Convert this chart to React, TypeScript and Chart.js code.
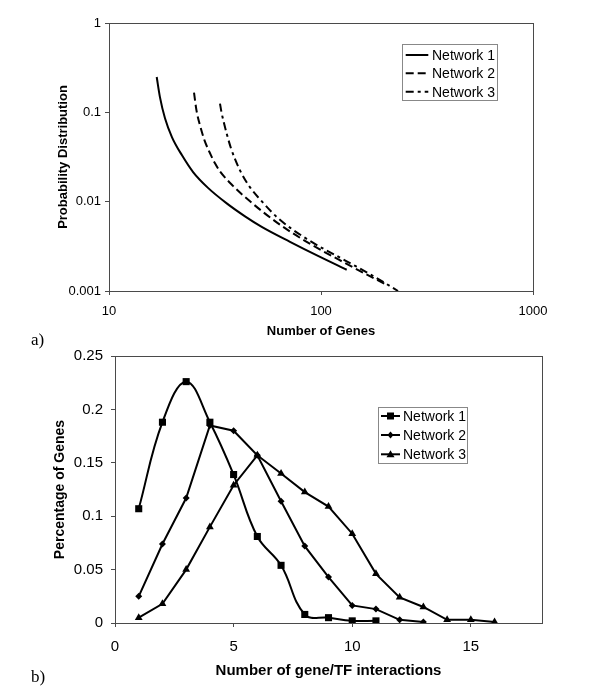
import React, { useEffect, useRef } from "react";
import { Chart, registerables } from "chart.js";

Chart.register(...registerables);

// ---------- Chart a) : probability distribution vs number of genes (log-log)
const seriesNames = ["Network 1", "Network 2", "Network 3"];
const net1Genes = [16.79, 17.4, 18.37, 19.83, 22.1, 24.98, 29.31, 35.92, 43.81, 52.53, 71.42, 96.79, 132.2];
const net1Prob = [0.2484, 0.1472, 0.0857, 0.0525, 0.033, 0.0213, 0.01427, 0.00957, 0.00685, 0.00522, 0.00355, 0.00247, 0.00173];
const net2Genes = [25.18, 25.86, 26.87, 28.22, 30.28, 31.62, 33.39, 38.45, 46.26, 61.8, 85.6, 132.2, 206.2];
const net2Prob = [0.1662, 0.1053, 0.0715, 0.0486, 0.033, 0.02685, 0.02184, 0.01503, 0.01008, 0.00587, 0.00355, 0.00201, 0.001156];
const net3Genes = [33.39, 33.94, 34.61, 35.92, 37.63, 41.49, 46.26, 51.57, 62.9, 85.6, 132.2, 174.0, 230.8];
const net3Prob = [0.1252, 0.1, 0.0813, 0.0577, 0.0395, 0.0224, 0.01446, 0.01061, 0.0065, 0.00383, 0.00215, 0.0015, 0.001];
const xTicksA = [10, 100, 1000];
const xTickLabelsA = ["10", "100", "1000"];
const yTicksA = [0.001, 0.01, 0.1, 1];
const yTickLabelsA = ["0.001", "0.01", "0.1", "1"];
const xTitleA = "Number of Genes";
const yTitleA = "Probability Distribution";

// ---------- Chart b) : percentage of genes vs number of gene/TF interactions
const interactions = [1, 2, 3, 4, 5, 6, 7, 8, 9, 10, 11, 12, 13, 14, 15, 16];
const net1Pct = [0.107, 0.188, 0.226, 0.188, 0.139, 0.081, 0.054, 0.008, 0.005, 0.002, 0.002];
const net2Pct = [0.025, 0.074, 0.117, 0.185, 0.18, 0.157, 0.114, 0.072, 0.043, 0.0165, 0.013, 0.003, 0.001];
const net3Pct = [0.005, 0.018, 0.05, 0.09, 0.129, 0.157, 0.14, 0.1226, 0.109, 0.0836, 0.046, 0.024, 0.015, 0.003, 0.003, 0.001];
const xTicksB = [0, 5, 10, 15];
const xTickLabelsB = ["0", "5", "10", "15"];
const yTicksB = [0, 0.05, 0.1, 0.15, 0.2, 0.25];
const yTickLabelsB = ["0", "0.05", "0.1", "0.15", "0.2", "0.25"];
const xTitleB = "Number of gene/TF interactions";
const yTitleB = "Percentage of Genes";

const SANS = "'Liberation Sans', Arial, Helvetica, sans-serif";
const SERIF = "'Liberation Serif', 'Times New Roman', serif";
const AXIS = "#4a4a4a";

const pts = (xs: number[], ys: number[]) => ys.map((y, i) => ({ x: xs[i], y }));

const framePlugin = {
  id: "frame",
  afterDatasetsDraw(chart: any) {
    const { ctx, chartArea } = chart;
    const { left, top, right, bottom } = chartArea;
    ctx.save();
    ctx.strokeStyle = AXIS;
    ctx.lineWidth = 1;
    ctx.strokeRect(Math.round(left) + 0.5, Math.round(top) + 0.5, Math.round(right - left), Math.round(bottom - top));
    ctx.restore();
  },
};

function drawMarker(ctx: CanvasRenderingContext2D, style: string, x: number, y: number) {
  ctx.beginPath();
  if (style === "rect") {
    ctx.rect(x - 3.5, y - 3.5, 7, 7);
  } else if (style === "rectRot") {
    ctx.moveTo(x, y - 3.5);
    ctx.lineTo(x + 3, y);
    ctx.lineTo(x, y + 3.5);
    ctx.lineTo(x - 3, y);
    ctx.closePath();
  } else if (style === "triangle") {
    ctx.moveTo(x, y - 4);
    ctx.lineTo(x + 4, y + 3);
    ctx.lineTo(x - 4, y + 3);
    ctx.closePath();
  } else {
    return;
  }
  ctx.fillStyle = "#000";
  ctx.fill();
}

function makeLegend(box: { x: number; y: number; w: number; h: number }, rows: number[], sx0: number, sx1: number, tx: number) {
  return {
    id: "boxLegend",
    afterDraw(chart: any) {
      const ctx: CanvasRenderingContext2D = chart.ctx;
      ctx.save();
      ctx.fillStyle = "#fff";
      ctx.fillRect(box.x, box.y, box.w, box.h);
      ctx.strokeStyle = "#888";
      ctx.lineWidth = 1;
      ctx.strokeRect(box.x + 0.5, box.y + 0.5, box.w, box.h);
      chart.data.datasets.forEach((ds: any, i: number) => {
        const y = rows[i];
        ctx.strokeStyle = "#000";
        ctx.lineWidth = 2;
        ctx.setLineDash(ds.borderDash || []);
        ctx.beginPath();
        ctx.moveTo(sx0, y);
        ctx.lineTo(sx1, y);
        ctx.stroke();
        ctx.setLineDash([]);
        if (ds.pointRadius > 0) drawMarker(ctx, ds.pointStyle, (sx0 + sx1) / 2, y);
        ctx.fillStyle = "#000";
        ctx.font = `14px ${SANS}`;
        ctx.textAlign = "left";
        ctx.textBaseline = "middle";
        ctx.fillText(ds.label, tx, y + 1);
      });
      ctx.restore();
    },
  };
}

function axisCommon(size: number, pad: number, ticks: number[], labels: string[], title: string, titleSize: number, fit: (s: any) => void) {
  return {
    afterBuildTicks: (s: any) => {
      s.ticks = ticks.map((v) => ({ value: v }));
    },
    afterFit: fit,
    ticks: {
      callback: (_v: any, i: number) => labels[i],
      autoSkip: false,
      maxRotation: 0,
      color: "#000",
      font: { family: SANS, size },
      padding: pad,
    },
    grid: { display: true, drawOnChartArea: false, drawTicks: true, tickLength: 4, color: AXIS },
    border: { display: true, color: AXIS },
    title: {
      display: true,
      text: title,
      color: "#000",
      font: { family: SANS, size: titleSize, weight: "bold" },
      padding: { top: 4, bottom: 4 },
    },
  };
}

function configA(): any {
  const common = { borderColor: "#000", borderWidth: 2, pointRadius: 0, cubicInterpolationMode: "monotone", fill: false };
  return {
    type: "line",
    data: {
      datasets: [
        { ...common, label: seriesNames[0], data: pts(net1Genes, net1Prob), borderDash: [] },
        { ...common, label: seriesNames[1], data: pts(net2Genes, net2Prob), borderDash: [8, 4] },
        { ...common, label: seriesNames[2], data: pts(net3Genes, net3Prob), borderDash: [8, 4, 3, 4] },
      ],
    },
    options: {
      animation: false,
      responsive: false,
      devicePixelRatio: 1,
      layout: { padding: { left: 52, top: 23, right: 67, bottom: 2 } },
      plugins: { legend: { display: false }, tooltip: { enabled: false } },
      scales: {
        x: {
          type: "logarithmic",
          min: 10,
          max: 1000,
          ...axisCommon(13, 9, xTicksA, xTickLabelsA, xTitleA, 13, (s: any) => {
            s.height = 52;
          }),
        },
        y: {
          type: "logarithmic",
          min: 0.001,
          max: 1,
          ...axisCommon(13, 4, yTicksA, yTickLabelsA, yTitleA, 13, (s: any) => {
            s.width = 57;
          }),
        },
      },
    },
    plugins: [framePlugin, makeLegend({ x: 402, y: 44, w: 95, h: 56 }, [55, 73.3, 91.7], 405.7, 428.3, 432)],
  };
}

function configB(): any {
  const common = { borderColor: "#000", backgroundColor: "#000", borderWidth: 2, fill: false, pointBorderWidth: 0 };
  return {
    type: "line",
    data: {
      datasets: [
        { ...common, label: seriesNames[0], data: pts(interactions, net1Pct), pointStyle: "rect", pointRadius: 5, tension: 0.4 },
        { ...common, label: seriesNames[1], data: pts(interactions, net2Pct), pointStyle: "rectRot", pointRadius: 3.5, tension: 0 },
        { ...common, label: seriesNames[2], data: pts(interactions, net3Pct), pointStyle: "triangle", pointRadius: 4.5, tension: 0 },
      ],
    },
    options: {
      animation: false,
      responsive: false,
      devicePixelRatio: 1,
      layout: { padding: { left: 48, top: 21, right: 58, bottom: 7 } },
      plugins: { legend: { display: false }, tooltip: { enabled: false } },
      scales: {
        x: {
          type: "linear",
          min: 0,
          max: 18,
          ...axisCommon(15, 11, xTicksB, xTickLabelsB, xTitleB, 15, (s: any) => {
            s.height = 61;
          }),
        },
        y: {
          type: "linear",
          min: 0,
          max: 0.25,
          ...axisCommon(15, 8, yTicksB, yTickLabelsB, yTitleB, 14, (s: any) => {
            s.width = 67;
          }),
        },
      },
    },
    plugins: [framePlugin, makeLegend({ x: 378, y: 72, w: 89, h: 56 }, [81, 100, 119.3], 381, 400, 403)],
  };
}

function ChartCanvas(props: { top: number; height: number; make: () => any }) {
  const ref = useRef<HTMLCanvasElement>(null);
  useEffect(() => {
    const chart = new Chart(ref.current as HTMLCanvasElement, props.make());
    return () => chart.destroy();
  }, []);
  return (
    <canvas
      ref={ref}
      width={600}
      height={props.height}
      style={{ position: "absolute", left: 0, top: props.top, width: 600, height: props.height, display: "block" }}
    />
  );
}

const panelLabel: React.CSSProperties = {
  position: "absolute",
  left: 31,
  fontFamily: SERIF,
  fontSize: 17,
  lineHeight: "17px",
  color: "#000",
};

export default function App() {
  return (
    <div style={{ position: "absolute", left: 0, top: 0, width: 600, height: 691, background: "#fff", overflow: "hidden" }}>
      <ChartCanvas top={0} height={345} make={configA} />
      <ChartCanvas top={335} height={356} make={configB} />
      <div style={{ ...panelLabel, top: 331 }}>a)</div>
      <div style={{ ...panelLabel, top: 668 }}>b)</div>
    </div>
  );
}
